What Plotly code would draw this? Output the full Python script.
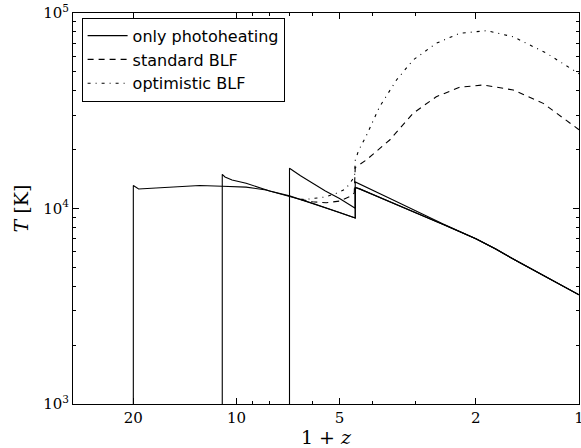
import plotly.graph_objects as go

# ---- data ----
# only photoheating, reionization at 1+z = 20
a_x = [20, 20, 19.3, 17, 15.7, 12.8, 11, 10, 9.37, 8.19, 7, 6.5, 6, 5, 4.5, 4.5, 4.37, 4, 3.5, 3, 2.5, 2, 1.75, 1.5, 1.25, 1]
a_T = [1000, 13100, 12580, 12750, 12850, 13100, 13000, 12900, 12860, 12440, 11600, 11130, 10650, 9550, 8950, 12800, 12600, 11800, 10700, 9550, 8300, 7000, 6200, 5320, 4480, 3620]
# only photoheating, reionization at 1+z = 11
b_x = [11, 11, 10.8, 10.3, 9.37, 8.6, 8.0, 7, 6.5, 6, 5, 4.5, 4.5, 4.37, 4, 3.5, 3, 2.5, 2, 1.75, 1.5, 1.25, 1]
b_T = [1000, 14960, 14500, 14000, 13460, 12850, 12300, 11600, 11130, 10650, 9550, 8950, 12800, 12600, 11800, 10700, 9550, 8300, 7000, 6200, 5320, 4480, 3620]
# only photoheating, reionization at 1+z = 7
c_x = [7, 7, 6.5, 6, 5.5, 5, 4.5, 4.5, 4, 3.5, 3, 2.5, 2, 1.75, 1.5, 1.25, 1]
c_T = [1000, 16070, 14700, 13500, 12300, 11250, 10020, 13670, 12450, 11100, 9750, 8350, 7000, 6200, 5320, 4480, 3620]
# standard BLF
s_x = [6.5, 6.0, 5.47, 5.0, 4.67, 4.53, 4.5, 4.18, 3.57, 3.05, 2.61, 2.23, 1.905, 1.556, 1.272, 1.027, 1.0]
s_T = [11130, 10830, 10700, 10920, 11500, 12000, 16200, 17700, 22400, 30700, 37300, 41700, 42840, 40400, 34500, 26200, 25300]
# optimistic BLF
o_x = [6.5, 6.25, 5.5, 5.11, 4.8, 4.62, 4.52, 4.5, 4.4, 4.18, 3.82, 3.41, 3.05, 2.61, 2.23, 1.86, 1.556, 1.243, 1.005, 1.0]
o_T = [11130, 11140, 11460, 11960, 12580, 13710, 14550, 17600, 19800, 23500, 33170, 45440, 57500, 70000, 78700, 81200, 75600, 62200, 49150, 48900]

x_ticks = [20, 10, 5, 2, 1]
x_ticktext = ["20", "10", "5", "2", "1"]
x_minor = [9, 8, 7, 6, 4, 3]
y_ticks = [1e3, 1e4, 1e5]
y_ticktext = ["10<sup>3</sup>", "10<sup>4</sup>", "10<sup>5</sup>"]
y_minor = [2e3, 3e3, 4e3, 5e3, 6e3, 7e3, 8e3, 9e3, 2e4, 3e4, 4e4, 5e4, 6e4, 7e4, 8e4, 9e4]

fig = go.Figure()
lw = 1.1
fig.add_trace(go.Scatter(x=a_x, y=a_T, mode="lines", name="only photoheating",
                         line=dict(color="black", width=lw), legendgroup="a"))
fig.add_trace(go.Scatter(x=b_x, y=b_T, mode="lines", showlegend=False,
                         line=dict(color="black", width=lw), legendgroup="a"))
fig.add_trace(go.Scatter(x=c_x, y=c_T, mode="lines", showlegend=False,
                         line=dict(color="black", width=lw), legendgroup="a"))
fig.add_trace(go.Scatter(x=s_x, y=s_T, mode="lines", name="standard BLF",
                         line=dict(color="black", width=lw, dash="6px,5px"), legendgroup="s"))
fig.add_trace(go.Scatter(x=o_x, y=o_T, mode="lines", name="optimistic BLF",
                         line=dict(color="black", width=lw, dash="3px,5px,1px,5px"), legendgroup="o"))

serif = "DejaVu Serif, Liberation Serif, serif"
fig.update_layout(
    width=581, height=448,
    margin=dict(l=73, r=2, t=13, b=44, autoexpand=False),
    paper_bgcolor="white", plot_bgcolor="white",
    font=dict(family=serif, color="black", size=15),
    legend=dict(x=0.017, y=0.988, xanchor="left", yanchor="top",
                bordercolor="black", borderwidth=1, bgcolor="white",
                font=dict(family="DejaVu Sans, sans-serif", size=16),
                itemwidth=40,
                traceorder="grouped", tracegroupgap=0),
    xaxis=dict(type="log", range=[1.4771, 0], showgrid=False, zeroline=False,
               automargin=False, ticklabeloverflow="allow",
               showline=True, linecolor="black", linewidth=1, mirror="allticks",
               ticks="inside", ticklen=6, tickcolor="black",
               tickvals=x_ticks, ticktext=x_ticktext,
               minor=dict(ticks="inside", ticklen=3, tickcolor="black", tickvals=x_minor),
               title=dict(text="1 + <i>z</i>", font=dict(size=19, family=serif), standoff=0)),
    yaxis=dict(type="log", range=[3, 5], showgrid=False, zeroline=False,
               automargin=False, ticklabeloverflow="allow",
               showline=True, linecolor="black", linewidth=1, mirror="allticks",
               ticks="inside", ticklen=6, tickcolor="black",
               tickvals=y_ticks, ticktext=y_ticktext,
               minor=dict(ticks="inside", ticklen=3, tickcolor="black", tickvals=y_minor),
               title=dict(text="<i>T</i> [K]", font=dict(size=19, family=serif), standoff=9)),
)

fig.write_html("out.html", config={"displayModeBar": False},
               post_script="document.body.style.margin='0';document.body.style.overflow='hidden';")
